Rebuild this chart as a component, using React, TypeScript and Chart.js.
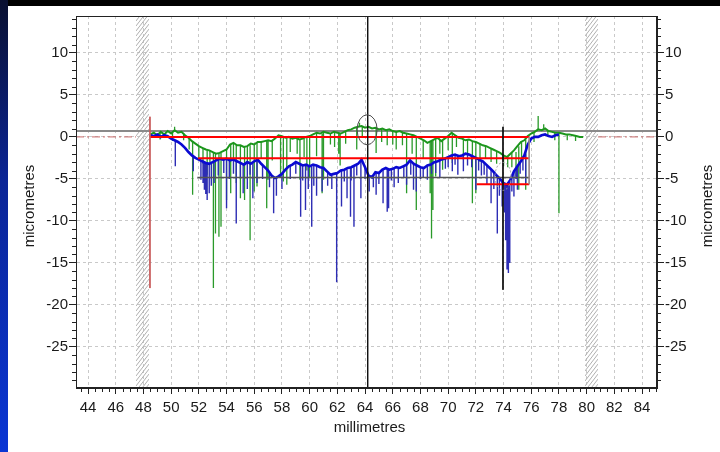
import React, { useEffect, useRef } from "react";
import { Chart, registerables } from "chart.js";

Chart.register(...registerables);

// ---------- axis ranges & tick labels ----------
const X_MIN = 43.13;
const X_MAX = 85.08;
const Y_MIN = -29.9;
const Y_MAX = 14.4;
const xTickLabels = [44, 46, 48, 50, 52, 54, 56, 58, 60, 62, 64, 66, 68, 70, 72, 74, 76, 78, 80, 82, 84];
const yTickLabels = [-25, -20, -15, -10, -5, 0, 5, 10];
const xTitle = "millimetres";
const yTitle = "micrometres";

// ---------- profiles (sampled every 0.25 mm) ----------
const sampleStep = 0.25;
const greenStart = 48.5;
const greenProfile = [
  0.3, 0.5, 0.2, 0.6, 0.3, 0.7, 0.4, 0.8, 0.5, 0.6,
  0.2, -0.1, -0.5, -0.8, -1.1, -1.3, -1.5, -1.6, -1.8, -2.0,
  -1.9, -1.7, -1.5, -0.9, -0.7, -1.0, -1.0, -1.2, -1.1, -0.8,
  -0.9, -0.6, -0.6, -0.5, -0.4, -0.5, -0.2, 0.2, 0.1, -0.1,
  0.0, -0.2, -0.1, -0.3, -0.2, 0.0, 0.1, 0.3, 0.5, 0.4,
  0.6, 0.5, 0.4, 0.6, 0.5, 0.4, 0.6, 0.8, 0.9, 1.1,
  1.2, 1.3, 1.1, 1.2, 1.0, 1.1, 0.9, 1.0, 0.8, 0.9,
  0.7, 0.6, 0.7, 0.5, 0.4, 0.3, 0.2, 0.0, -0.2, -0.4,
  -0.7, -0.5, -0.3, -0.1, -0.5, -0.2, 0.1, 0.5, 0.2, -0.1,
  -0.2, -0.4, -0.3, -0.5, -0.6, -0.8, -1.0, -1.1, -1.3, -1.5,
  -1.7, -1.9, -2.2, -2.4, -2.0, -1.6, -1.1, -0.6, -0.4, 0.1,
  0.4, 0.6, 0.9, 0.8, 1.0, 0.7, 0.6, 0.5, 0.5, 0.4,
  0.3, 0.3, 0.2, 0.1, 0.0, 0.0,
];
const blueStart = 48.5;
const blueProfile = [
  0.2, 0.1, 0.3, 0.0, 0.2, 0.1, -0.2, -0.4, -0.6, -0.9,
  -1.3, -1.8, -2.2, -2.5, -2.7, -2.9, -3.1, -3.2, -3.0, -2.8,
  -2.6, -2.7, -2.6, -2.8, -2.7, -2.9, -3.1, -3.3, -3.0, -3.2,
  -2.9, -2.7, -3.2, -3.6, -4.0, -4.6, -4.9, -4.7, -4.4, -3.9,
  -3.5, -3.3, -3.0, -3.2, -3.4, -3.3, -3.5, -3.3, -3.4, -3.6,
  -3.7, -4.1, -4.5, -4.4, -4.3, -4.0, -3.9, -3.7, -3.6, -3.4,
  -3.2, -2.7, -3.6, -4.6, -4.8, -4.2, -4.3, -3.9, -3.7, -3.9,
  -3.8, -3.6, -3.7, -3.5, -3.3, -2.8, -3.2, -3.4, -3.6, -3.7,
  -3.4, -3.3, -3.0, -2.9, -2.7, -2.6, -2.4, -2.2, -2.1, -2.3,
  -2.2, -2.0, -2.1, -2.3, -2.5, -2.7, -2.9, -3.3, -3.7, -4.1,
  -4.6, -5.0, -5.5, -5.7, -5.1, -4.1, -3.5, -2.9, -2.2, -0.9,
  -0.2, 0.0, 0.0, 0.2, 0.3, 0.1, 0.0, 0.2, 0.3,
];

// ---------- spikes: [mm, from, to] ----------
const greenSpikes = [
  [49.2, 0.5, -0.3], [50.1, 0.5, -0.5], [50.25, 0.8, 1.2], [50.9, 0.4, -0.4],
  [51.3, -0.2, -1.5], [51.55, -0.5, -6.9], [52.0, -1.1, -2.5], [52.3, -1.4, -3.2],
  [52.6, -1.5, -4.5], [52.8, -1.6, -3.0], [53.05, -1.8, -18.0], [53.2, -1.9, -11.5],
  [53.45, -1.9, -11.9], [53.6, -1.9, -10.7], [54.0, -1.5, -7.5], [54.3, -0.9, -6.7],
  [54.5, -0.7, -2.5], [54.7, -0.9, -5.5], [55.0, -1.0, -7.3], [55.3, -1.2, -7.5],
  [55.5, -1.1, -3.0], [55.7, -1.0, -12.3], [56.0, -0.9, -6.5], [56.2, -0.6, -5.9],
  [56.5, -0.6, -2.6], [56.9, -0.5, -8.5], [57.0, -0.4, -5.1], [57.3, -0.4, -2.8],
  [57.9, 0.2, -4.8], [58.1, 0.1, -5.3], [58.35, -0.1, -5.7], [58.6, 0.0, -1.8],
  [59.1, -0.1, -2.0], [59.3, -0.3, -5.1], [59.6, -0.2, -2.4], [59.8, 0.0, -4.0],
  [60.0, 0.1, -4.9], [60.5, 0.5, -2.3], [60.9, 0.4, -6.7], [61.0, 0.6, -5.1],
  [61.5, 0.4, -0.9], [61.8, 0.6, -1.2], [62.1, 0.5, -2.0], [62.2, 0.4, -3.4],
  [62.6, 0.7, -0.8], [63.4, 1.1, -1.5], [63.6, 1.2, 1.7], [63.8, 1.3, 0.0],
  [64.8, 1.1, -1.9], [65.2, 1.0, -0.6], [65.6, 0.8, -1.0], [66.0, 0.7, -0.9],
  [66.25, 0.6, -1.5], [66.7, 0.5, -1.0], [67.0, 0.4, -6.7], [67.4, 0.2, -2.0],
  [67.7, 0.0, -8.7], [68.2, -0.4, -2.5], [68.7, -0.5, -6.7], [68.8, -0.5, -12.1],
  [68.9, -0.4, -8.7], [69.1, -0.3, -4.7], [69.4, -0.3, -2.0], [69.6, -0.5, -3.9],
  [70.0, 0.1, -1.6], [70.3, 0.5, -3.1], [70.6, 0.2, -1.2], [71.1, -0.2, -2.7],
  [71.4, -0.3, -2.0], [71.75, -0.5, -7.9], [72.0, -0.6, -6.7], [72.3, -0.8, -3.0],
  [72.7, -1.1, -2.6], [73.1, -1.4, -3.0], [73.5, -1.7, -3.2], [74.0, -2.2, -3.5],
  [74.3, -2.4, -3.6], [74.6, -1.9, -3.6], [74.9, -1.8, -4.7], [75.1, -1.1, -6.3],
  [75.3, -0.6, -3.0], [75.6, -0.3, -6.3], [76.2, 0.6, -0.6], [76.5, 0.9, 2.5],
  [76.9, 1.0, 1.5], [77.2, 0.7, 0.0], [77.7, 0.5, -0.4], [78.0, 0.5, -9.1],
  [78.6, 0.3, -0.4], [79.2, 0.1, -0.5],
];
const blueSpikes = [
  [50.3, -0.4, -3.5], [51.6, -2.3, -4.1], [52.15, -2.8, -5.1], [52.3, -2.9, -5.5],
  [52.4, -3.0, -6.3], [52.5, -3.1, -6.8], [52.6, -3.1, -7.5], [52.75, -3.2, -6.7],
  [52.9, -3.1, -5.8], [53.1, -3.0, -5.5], [53.4, -2.7, -4.6], [53.8, -2.7, -4.3],
  [54.0, -2.6, -8.5], [54.2, -2.7, -5.0], [54.5, -2.7, -4.4], [54.7, -2.8, -10.3],
  [55.0, -3.1, -4.9], [55.2, -3.2, -6.7], [55.5, -3.0, -6.2], [55.7, -3.1, -4.5],
  [55.9, -3.0, -7.3], [56.2, -2.7, -5.5], [56.6, -3.4, -5.0], [57.1, -4.2, -6.0],
  [57.4, -4.8, -9.1], [57.6, -4.9, -7.0], [58.0, -4.4, -6.2], [58.6, -3.4, -5.0],
  [59.0, -3.0, -4.4], [59.35, -3.2, -9.5], [59.5, -3.4, -5.2], [59.7, -3.3, -8.7],
  [59.9, -3.4, -6.2], [60.15, -3.5, -10.7], [60.3, -3.4, -5.8], [60.5, -3.4, -7.0],
  [60.9, -3.6, -6.5], [61.3, -4.2, -5.8], [61.6, -4.5, -6.2], [61.95, -4.3, -17.3],
  [62.3, -4.0, -8.3], [62.5, -3.9, -5.3], [62.7, -3.9, -7.3], [62.95, -3.6, -9.5],
  [63.0, -3.6, -5.2], [63.2, -3.4, -10.7], [63.4, -3.3, -4.6], [63.7, -3.0, -7.3],
  [64.0, -3.6, -5.0], [64.3, -4.6, -6.5], [64.6, -4.6, -6.0], [64.8, -4.2, -6.9],
  [65.0, -4.3, -5.6], [65.3, -3.9, -7.9], [65.6, -3.7, -8.9], [65.7, -3.8, -8.5],
  [65.9, -3.9, -5.2], [66.1, -3.8, -6.0], [66.4, -3.6, -5.5], [66.8, -3.5, -4.8],
  [67.0, -3.3, -5.7], [67.3, -3.0, -4.5], [67.5, -3.2, -6.3], [67.7, -3.4, -6.5],
  [68.0, -3.6, -5.0], [68.2, -3.7, -4.9], [68.5, -3.4, -5.1], [68.8, -3.3, -4.4],
  [69.1, -3.0, -4.3], [69.4, -2.8, -4.9], [69.8, -2.6, -3.8], [70.0, -2.4, -3.6],
  [70.3, -2.2, -4.1], [70.5, -2.1, -3.3], [70.7, -2.1, -4.5], [71.1, -2.2, -4.1],
  [71.4, -2.1, -3.4], [71.7, -2.3, -3.6], [72.0, -2.5, -6.3], [72.2, -2.6, -4.0],
  [72.4, -2.8, -4.6], [72.6, -3.0, -4.5], [72.8, -3.3, -5.6], [73.1, -3.8, -7.9],
  [73.3, -4.2, -6.2], [73.55, -4.7, -11.5], [73.7, -4.9, -7.0], [73.9, -5.3, -8.3],
  [74.05, -5.5, -9.0], [74.15, -5.6, -12.3], [74.25, -5.7, -15.8], [74.35, -5.5, -16.2],
  [74.45, -5.2, -15.0], [74.6, -4.8, -6.5], [74.75, -4.1, -7.1], [74.9, -3.8, -5.0],
  [75.0, -3.5, -6.3], [75.2, -3.0, -4.4], [75.4, -2.5, -4.0], [75.6, -2.0, -5.5],
];

// ---------- reference / annotation values ----------
const redLevels = [0, -2.54, -5.64];
const redStarts = [48.47, 51.95, 72.06];
const redEnd = 75.85;
const grayLevel = 0.7;
const darkLevel = -4.84;
const darkStart = 51.89;
const darkEnd = 75.85;
const zeroRefSpans = [[43.13, 47.46], [80.82, 85.08]];
const hatchBands = [[47.46, 48.4], [79.88, 80.82]];
const cursorX = 64.19;
const markerX = 73.96;
const markerSpan = [1.2, -18.2];
const startMarkerX = 48.47;
const startMarkerSpan = [2.4, -18.0];
const endMarkerX = 75.85;
const endMarkerSpan = [0, -5.64];
const ellipseCenters = [[64.15, 0.85], [73.96, -4.7]];

// ---------- styles ----------
const FONT = "'Liberation Sans', Arial, sans-serif";
const TEXT = "#1a1a1a";

function profilePoints(start: number, values: number[]) {
  return values.map((v, i) => ({ x: start + i * sampleStep, y: v }));
}
function spikePoints(spikes: number[][]) {
  const out: { x: number; y: number | null }[] = [];
  for (const [x, a, b] of spikes) {
    out.push({ x, y: a }, { x, y: b }, { x, y: null });
  }
  return out;
}
function lineDs(data: any[], color: string, width: number, order: number, extra: any = {}) {
  return {
    type: "line",
    data,
    borderColor: color,
    backgroundColor: color,
    borderWidth: width,
    pointRadius: 0,
    tension: 0,
    spanGaps: false,
    fill: false,
    order,
    ...extra,
  };
}

const decorPlugin = {
  id: "decor",
  beforeDatasetsDraw(chart: any) {
    const { ctx, chartArea: a, scales } = chart;
    const x = scales.x;
    ctx.save();
    ctx.beginPath();
    ctx.rect(a.left, a.top, a.right - a.left, a.bottom - a.top);
    ctx.clip();
    ctx.strokeStyle = "#b0b0b0";
    ctx.lineWidth = 1;
    for (const [b0, b1] of hatchBands) {
      const x0 = x.getPixelForValue(b0);
      const x1 = x.getPixelForValue(b1);
      const w = x1 - x0;
      ctx.save();
      ctx.beginPath();
      ctx.rect(x0, a.top, w, a.bottom - a.top);
      ctx.clip();
      ctx.beginPath();
      for (let yy = a.top - w * 1.3; yy < a.bottom + 10; yy += 5) {
        ctx.moveTo(x0, yy + w * 1.3);
        ctx.lineTo(x1, yy);
      }
      ctx.stroke();
      ctx.restore();
    }
    ctx.restore();
  },
  afterDatasetsDraw(chart: any) {
    const { ctx, scales } = chart;
    const x = scales.x;
    const y = scales.y;
    ctx.save();
    ellipseCenters.forEach(([cx, cy], i) => {
      ctx.beginPath();
      ctx.strokeStyle = i === 0 ? "#4a4a4a" : "#9a9a9a";
      ctx.lineWidth = 1;
      ctx.setLineDash(i === 0 ? [] : [2, 2]);
      ctx.ellipse(x.getPixelForValue(cx), y.getPixelForValue(cy), i === 0 ? 10 : 8, i === 0 ? 15 : 14, 0, 0, Math.PI * 2);
      ctx.stroke();
    });
    ctx.restore();
  },
  afterDraw(chart: any) {
    const { ctx, chartArea: a, scales } = chart;
    const x = scales.x;
    const y = scales.y;
    ctx.save();
    ctx.strokeStyle = "#222";
    ctx.lineWidth = 1;
    ctx.setLineDash([]);
    ctx.strokeRect(Math.round(a.left) + 0.5, Math.round(a.top) + 0.5, Math.round(a.right - a.left) - 1, Math.round(a.bottom - a.top) - 1);
    // minor ticks
    ctx.beginPath();
    for (let k = Math.ceil(X_MIN * 2); k <= Math.floor(X_MAX * 2); k++) {
      if (k % 4 === 0) continue;
      const px = Math.round(x.getPixelForValue(k / 2)) + 0.5;
      ctx.moveTo(px, a.bottom);
      ctx.lineTo(px, a.bottom + 4);
    }
    for (let k = Math.ceil(Y_MIN); k <= Math.floor(Y_MAX); k++) {
      if (k % 5 === 0) continue;
      const py = Math.round(y.getPixelForValue(k)) + 0.5;
      ctx.moveTo(a.left - 4, py);
      ctx.lineTo(a.left, py);
      ctx.moveTo(a.right, py);
      ctx.lineTo(a.right + 4, py);
    }
    ctx.stroke();
    // axis titles
    ctx.fillStyle = TEXT;
    ctx.font = `15px ${FONT}`;
    ctx.textAlign = "center";
    ctx.textBaseline = "middle";
    ctx.fillText(xTitle, (a.left + a.right) / 2 + 3, 422);
    const cy = (a.top + a.bottom) / 2 + 4;
    for (const tx of [22, 700]) {
      ctx.save();
      ctx.translate(tx, cy);
      ctx.rotate(-Math.PI / 2);
      ctx.fillText(yTitle, 0, 0);
      ctx.restore();
    }
    ctx.restore();
  },
};

function yAxis(position: string, width: number, showGrid: boolean) {
  return {
    type: "linear",
    position,
    min: Y_MIN,
    max: Y_MAX,
    afterBuildTicks: (s: any) => {
      s.ticks = yTickLabels.map((v) => ({ value: v }));
    },
    afterFit: (s: any) => {
      s.width = width;
    },
    grid: {
      display: true,
      drawOnChartArea: showGrid,
      color: "#c9c9c9",
      lineWidth: 1,
      drawTicks: true,
      tickLength: 7,
      tickColor: "#222",
      tickWidth: 1,
    },
    border: { display: true, color: "#222", width: 1, dash: [3, 3] },
    ticks: {
      padding: 1,
      color: TEXT,
      font: { family: FONT, size: 15 },
      callback: (v: any) => String(v),
    },
  };
}

export default function App() {
  const ref = useRef<HTMLCanvasElement>(null);
  useEffect(() => {
    const canvas = ref.current!;
    const redData: any[] = [];
    redLevels.forEach((lv, i) => {
      redData.push({ x: redStarts[i], y: lv }, { x: redEnd, y: lv }, { x: redEnd, y: null });
    });
    const zeroRefData: any[] = [];
    zeroRefSpans.forEach(([a, b]) => {
      zeroRefData.push({ x: a, y: 0 }, { x: b, y: 0 }, { x: b, y: null });
    });
    const blackData = [
      { x: cursorX, y: Y_MAX },
      { x: cursorX, y: Y_MIN },
      { x: cursorX, y: null },
      { x: markerX, y: markerSpan[0] },
      { x: markerX, y: markerSpan[1] },
    ];
    const chart = new Chart(canvas, {
      type: "line",
      data: {
        datasets: [
          lineDs(zeroRefData, "#c86a6a", 1, 20, { borderDash: [8, 3, 2, 3] }),
          lineDs([{ x: X_MIN, y: grayLevel }, { x: X_MAX, y: grayLevel }], "#8a8a8a", 2, 19),
          lineDs(spikePoints(greenSpikes), "#2a9a2a", 1.3, 18),
          lineDs(profilePoints(greenStart, greenProfile), "#1c961c", 2, 17),
          lineDs(spikePoints(blueSpikes), "#2d2db4", 1.4, 16),
          lineDs(profilePoints(blueStart, blueProfile), "#0a0ad2", 2.6, 15),
          lineDs([{ x: darkStart, y: darkLevel }, { x: darkEnd, y: darkLevel }], "#555555", 1.5, 14),
          lineDs(redData, "#ff0000", 2, 13),
          lineDs([{ x: endMarkerX, y: endMarkerSpan[0] }, { x: endMarkerX, y: endMarkerSpan[1] }], "#9a8a8a", 1, 12),
          lineDs([{ x: startMarkerX, y: startMarkerSpan[0] }, { x: startMarkerX, y: startMarkerSpan[1] }], "#c85a5a", 1, 11),
          lineDs(blackData, "#111111", 1, 10),
        ] as any,
      },
      options: {
        responsive: false,
        animation: false,
        devicePixelRatio: 1,
        events: [],
        layout: { padding: { top: 10, left: 0, right: 0, bottom: 0 } },
        plugins: { legend: { display: false }, tooltip: { enabled: false } },
        scales: {
          x: {
            type: "linear",
            position: "bottom",
            min: X_MIN,
            max: X_MAX,
            afterBuildTicks: (s: any) => {
              s.ticks = xTickLabels.map((v) => ({ value: v }));
            },
            afterFit: (s: any) => {
              s.height = 64;
            },
            grid: {
              display: true,
              drawOnChartArea: true,
              color: "#c9c9c9",
              lineWidth: 1,
              drawTicks: true,
              tickLength: 6,
              tickColor: "#222",
              tickWidth: 1,
            },
            border: { display: true, color: "#222", width: 1, dash: [3, 3] },
            ticks: {
              autoSkip: false,
              maxRotation: 0,
              minRotation: 0,
              padding: 5,
              color: TEXT,
              font: { family: FONT, size: 15 },
              callback: (v: any) => String(v),
            },
          },
          y: yAxis("left", 68, true) as any,
          y2: yAxis("right", 63, false) as any,
        },
      } as any,
      plugins: [decorPlugin],
    });
    return () => chart.destroy();
  }, []);

  return (
    <div style={{ position: "fixed", left: 0, top: 0, width: 720, height: 452, background: "#000", overflow: "hidden" }}>
      <div
        style={{
          position: "absolute",
          left: 0,
          top: 0,
          width: 8,
          height: 452,
          background: "linear-gradient(#0a1030, #0b2596 40%, #0a36d4)",
        }}
      />
      <div style={{ position: "absolute", left: 8, top: 6, width: 712, height: 446, background: "#fff" }}>
        <canvas ref={ref} width={712} height={446} style={{ display: "block", width: 712, height: 446 }} />
      </div>
    </div>
  );
}
